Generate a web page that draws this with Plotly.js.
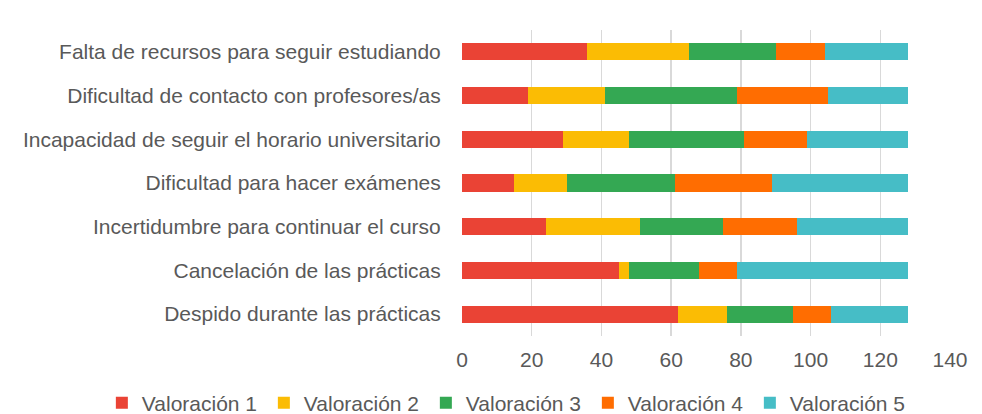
<!DOCTYPE html>
<html><head><meta charset="utf-8">
<script src="https://cdn.plot.ly/plotly-3.0.1.min.js"></script>
<style>body{margin:0;background:#fff}#chart{width:982px;height:414px}</style>
</head><body><div id="chart"></div>
<script>
const categories = [
  "Falta de recursos para seguir estudiando",
  "Dificultad de contacto con profesores/as",
  "Incapacidad de seguir el horario universitario",
  "Dificultad para hacer exámenes",
  "Incertidumbre para continuar el curso",
  "Cancelación de las prácticas",
  "Despido durante las prácticas"
];
const seriesNames = ["Valoración 1","Valoración 2","Valoración 3","Valoración 4","Valoración 5"];
const valoracion1 = [36, 19, 29, 15, 24, 45, 62];
const valoracion2 = [29, 22, 19, 15, 27, 3, 14];
const valoracion3 = [25, 38, 33, 31, 24, 20, 19];
const valoracion4 = [14, 26, 18, 28, 21, 11, 11];
const valoracion5 = [24, 23, 29, 39, 32, 49, 22];
const tickValues = [0, 20, 40, 60, 80, 100, 120, 140];
const colors = ["#EA4335","#FBBC04","#34A853","#FF6D01","#46BDC6"];

const allSeries = [valoracion1, valoracion2, valoracion3, valoracion4, valoracion5];
const traces = allSeries.map((vals, i) => ({
  type: "bar", orientation: "h",
  name: seriesNames[i], x: vals, y: categories,
  marker: {color: colors[i]},
  hoverinfo: "x+name"
}));

const font = {family: "Liberation Sans, Arial, sans-serif", size: 21, color: "#595959"};
const layout = {
  width: 982, height: 414,
  margin: {l: 462, r: 32, t: 30, b: 78, autoexpand: false},
  barmode: "stack", bargap: 0.61,
  paper_bgcolor: "#fff", plot_bgcolor: "#fff",
  font: font,
  xaxis: {range: [0, 140], tickvals: tickValues, showgrid: true, gridcolor: "#d9d9d9", gridwidth: 1.5,
          zeroline: false, showline: false, ticks: "outside", ticklen: 5, tickcolor: "rgba(0,0,0,0)",
          tickfont: font, fixedrange: true},
  yaxis: {categoryorder: "array", categoryarray: categories, autorange: "reversed",
          showgrid: false, zeroline: false, showline: false, ticks: "outside", ticklen: 16, tickcolor: "rgba(0,0,0,0)",
          tickfont: font},
  legend: {orientation: "h", x: -0.738, xref: "paper", xanchor: "left", y: -0.152, yref: "paper", yanchor: "top",
           font: font, traceorder: "normal", itemwidth: 30, entrywidth: 117, entrywidthmode: "pixels"},
  showlegend: true
};
Plotly.newPlot("chart", traces, layout, {displayModeBar: false, staticPlot: true});
</script></body></html>
